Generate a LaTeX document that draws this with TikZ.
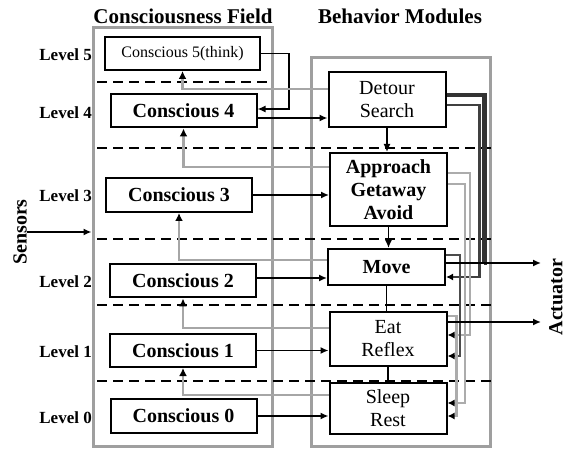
\documentclass[tikz,border=0pt]{standalone}
\usepackage{fontspec}
\setmainfont{Liberation Serif}
\usetikzlibrary{arrows.meta}

\begin{document}
\begin{tikzpicture}[x=1pt,y=-1pt]
  \tikzset{
    field frame/.style={
      draw=gray!75,
      line width=3pt,
      inner sep=0pt,
    },
    level box/.style={
      draw,
      fill=white,
      line width=2pt,
      minimum width=146pt,
      minimum height=33pt,
      inner sep=1pt,
      font=\fontsize{20}{23}\selectfont\bfseries,
    },
    module box/.style={level box, minimum width=117pt, align=center},
    thin text/.style={font=\fontsize{20}{23}\selectfont},
    level line/.style={line width=2.6pt, dash pattern=on 10pt off 6pt},
    level tag/.style={anchor=east, inner sep=0pt, font=\fontsize{17}{19}\selectfont\bfseries},
    big title/.style={inner sep=0pt, font=\fontsize{21}{23}\selectfont\bfseries},
    sig/.style={line width=1.5pt, -{Latex[length=8pt,width=7pt]}},
    feed/.style={draw=gray!70, line width=2.6pt, -{Latex[length=8pt,width=8pt,color=black]}},
    bus/.style={draw=gray!65, line width=2.6pt, -{Latex[length=7pt,width=7pt,color=black]}},
    heavy bus/.style={draw=black!80, line width=4.5pt},
  }
  \useasboundingbox (0,0) rectangle (568,449);

  % os dois campos
  \node[field frame, minimum width=179pt, minimum height=418pt] (cfield) at (182.5,237) {};
  \node[field frame, minimum width=179pt, minimum height=388pt] (bfield) at (400.5,252) {};
  \node[big title] (ctitle) at (183,16) {Consciousness Field};
  \node[big title] (btitle) at (400,16) {Behavior Modules};

  % linhas de nivel
  \draw[level line] (97,82) -- (268,82);
  \foreach \y in {148,239,305,381}
    \draw[level line] (97,\y) -- (492,\y);

  \node[level box, minimum width=155pt, font=\fontsize{16}{18}\selectfont] (c5) at (182.5,53.5) {Conscious 5(think)};
  \node[level box] (c4) at (183.5,111) {Conscious 4};
  \node[level box, minimum height=34pt] (c3) at (179,195) {Conscious 3};
  \node[level box] (c2) at (183,281) {Conscious 2};
  \node[level box] (c1) at (183,350.5) {Conscious 1};
  \node[level box, minimum height=34pt] (c0) at (183.5,416) {Conscious 0};

  \node[level tag] (l5) at (92,55) {Level 5};
  \node[level tag] (l4) at (92,113) {Level 4};
  \node[level tag] (l3) at (92,196) {Level 3};
  \node[level tag] (l2) at (92,282) {Level 2};
  \node[level tag] (l1) at (92,352) {Level 1};
  \node[level tag] (l0) at (92,418) {Level 0};

  \node[module box, thin text, minimum height=55pt] (detour) at (387,99.5) {Detour\\Search};
  \node[module box, minimum height=73pt] (approach) at (388.5,189.5) {Approach\\Getaway\\Avoid};
  \node[module box, minimum height=36pt] (move) at (386.5,267) {Move};
  \node[module box, thin text, minimum height=54pt] (eat) at (388,339) {Eat\\Reflex};
  \node[module box, thin text, minimum height=51pt] (sleep) at (388,408.5) {Sleep\\Rest};

  \node[big title, font=\fontsize{20}{22}\selectfont\bfseries, rotate=90] (sensors) at (20,232) {Sensors};
  \node[big title, font=\fontsize{20}{22}\selectfont\bfseries, rotate=90] (actuator) at (556,297) {Actuator};
  \coordinate (act1) at (541,263);
  \coordinate (act2) at (541,322);

  % barramento da direita
  \draw[heavy bus] ([yshift=4.5pt]detour.east) -- ++(38,0) |- ([yshift=4pt]move.east -| 484,0);

  % campo -> modulos
  \draw[sig] (sensors.south) -- (sensors.south -| cfield.west);
  \draw[sig] (c5.east) -- ++(28,0) |- ([yshift=2pt]c4.east);
  \draw[sig] ([yshift=-7pt]c4.east) -- ([yshift=-7pt]c4.east -| detour.west);
  \draw[sig] (c3.east) -- (c3.east -| approach.west);
  \draw[sig] ([yshift=3pt]c2.east) -- ([yshift=3pt]c2.east -| move.west);
  \draw[sig] (c1.east) -- (c1.east -| eat.west);
  \draw[sig] (c0.east) -- (c0.east -| sleep.west);

  % modulos -> campo (retorno)
  \draw[feed] ([yshift=10.5pt]detour.west) -| (c5.south);
  \draw[feed] ([yshift=22.5pt]approach.west) -| (c4.south);
  \draw[feed] ([yshift=7pt]move.west) -| (c3.south);
  \draw[feed] ([yshift=11pt]eat.west) -| (c2.south);
  \draw[feed] ([yshift=13.5pt]sleep.west) -| (c1.south);

  % entre modulos
  \draw[sig] (detour.south) -- (detour.south |- approach.north);
  \draw[sig] (approach.south) -- (approach.south |- move.north);
  \draw[line width=1.8pt] (move.south) -- (move.south |- eat.north);
  \draw[line width=2.8pt] (eat.south) -- (eat.south |- sleep.north);

  % supressao
  \draw[bus, draw=black!75] ([yshift=-5.5pt]detour.east) -- ++(33,0) |- ([yshift=-10pt]move.east);
  \draw[bus] ([yshift=16.5pt]approach.east) -- ++(22,0) |- ([yshift=4pt]eat.east);
  \draw[bus] ([yshift=5.5pt]approach.east) -- ++(17,0) |- ([yshift=5.5pt]sleep.east);
  \draw[bus, draw=black!70] ([yshift=12pt]move.east) -- ++(14,0) |- ([yshift=-17pt]eat.east);
  \draw[bus] ([yshift=23pt]eat.east) -- ++(9,0) |- ([yshift=-7.5pt]sleep.east);

  % saidas
  \draw[sig] ([yshift=4pt]move.east) -- ([yshift=4pt]move.east -| act1);
  \draw[sig] ([yshift=17pt]eat.east) -- ([yshift=17pt]eat.east -| act2);
\end{tikzpicture}
\end{document}
